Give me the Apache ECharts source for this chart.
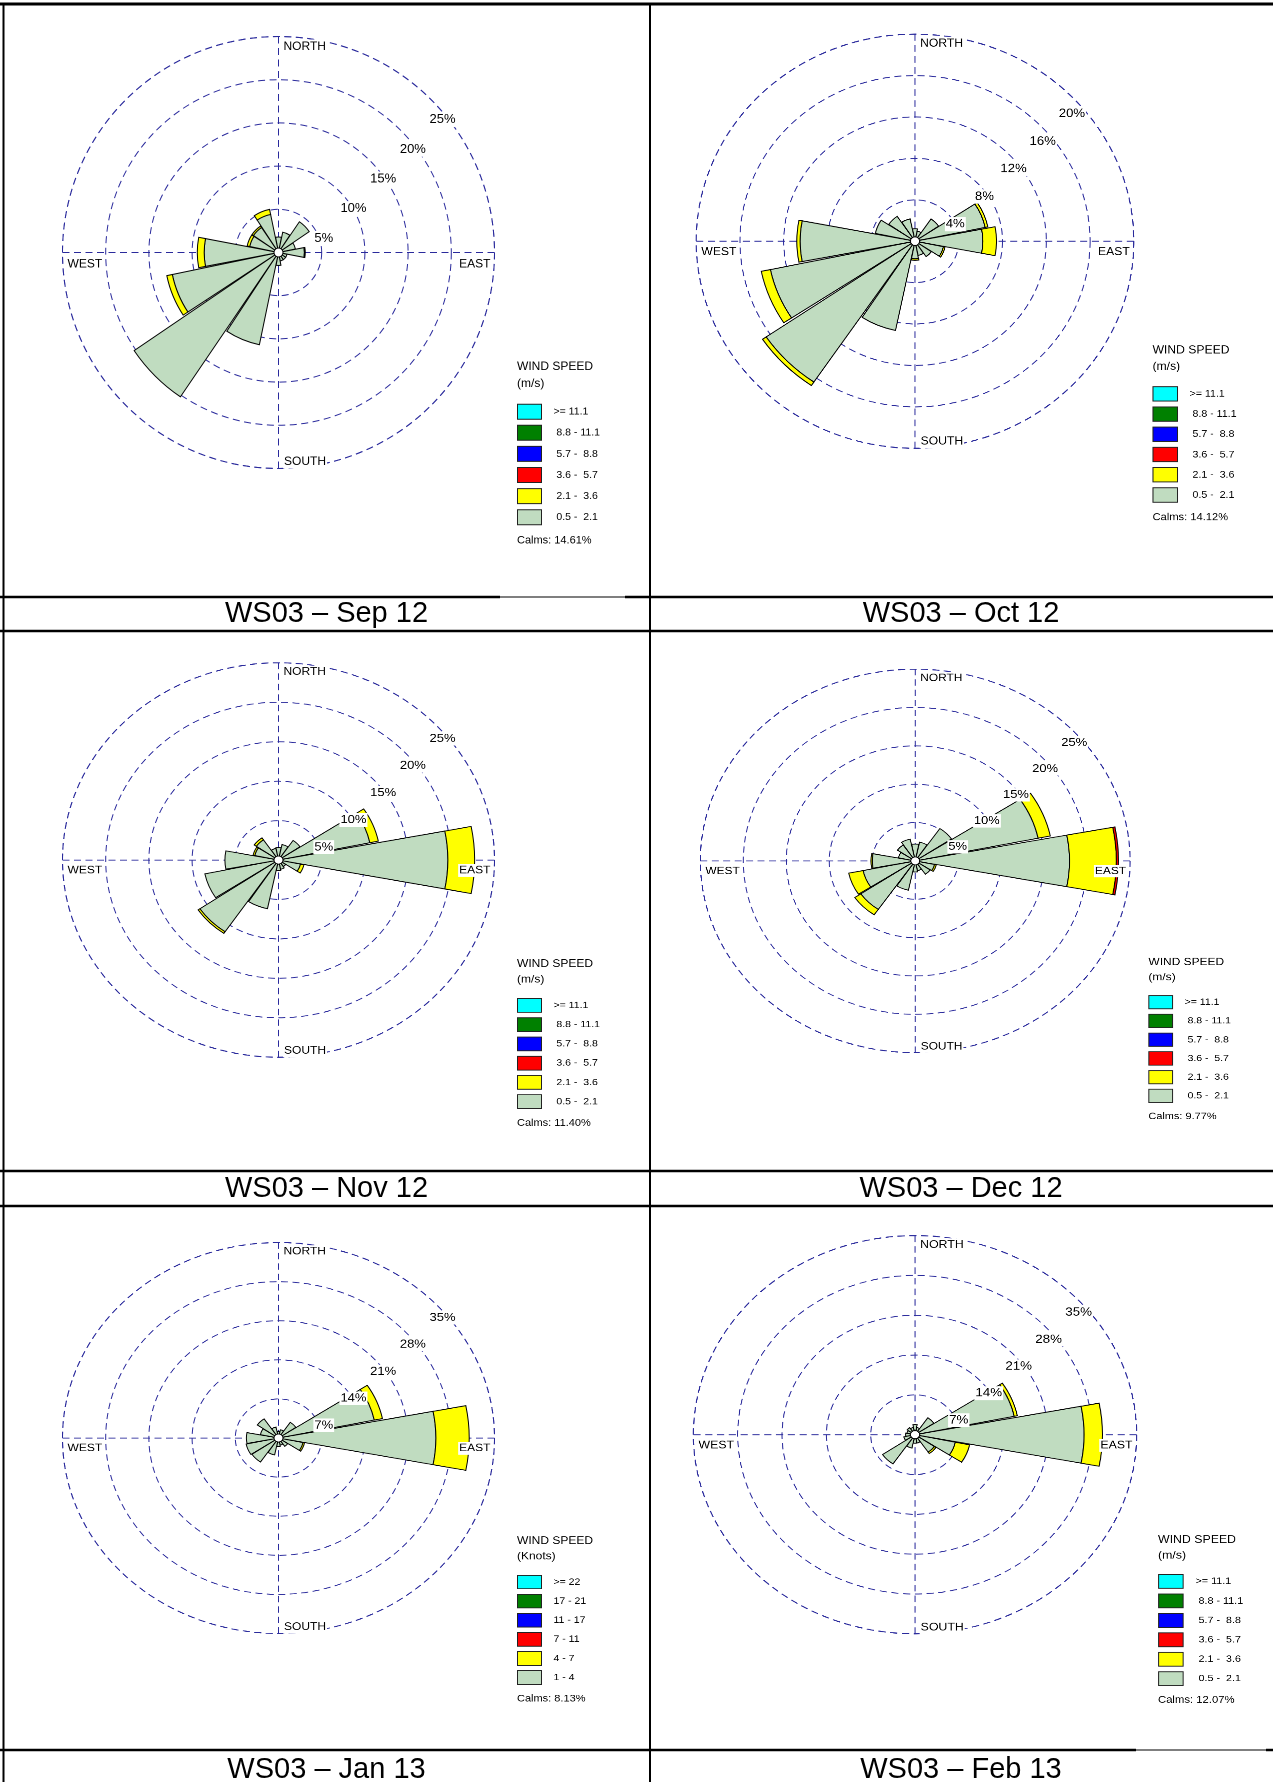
<!DOCTYPE html>
<html><head><meta charset="utf-8">
<script src="https://cdn.jsdelivr.net/npm/echarts@6/dist/echarts.min.js"></script>
<style>
html,body{margin:0;padding:0;background:#fff;}
#page{position:relative;width:1273px;height:1782px;overflow:hidden;background:#fff;}
#bg{position:absolute;left:0;top:0;width:1273px;height:1782px;}
.panel{position:absolute;transform-origin:0 0;}
</style></head><body>
<div id="page"><div id="bg"></div></div>
<script>
// ---------------- DATA ----------------
const directions = ['N','NNE','NE','ENE','E','ESE','SE','SSE','S','SSW','SW','WSW','W','WNW','NW','NNW'];

// speed class labels, inner (lowest) to outer (highest)
const classLabelsMs = [' 0.5 -  2.1', ' 2.1 -  3.6', ' 3.6 -  5.7', ' 5.7 -  8.8', ' 8.8 - 11.1', '>= 11.1'];
const classLabelsKnots = ['1 - 4', '4 - 7', '7 - 11', '11 - 17', '17 - 21', '>= 22'];
const classColors = ['#c0dcc0', '#ffff00', '#ff0000', '#0000ff', '#008000', '#00ffff'];

const captions = ['WS03 \u2013 Sep 12', 'WS03 \u2013 Oct 12', 'WS03 \u2013 Nov 12', 'WS03 \u2013 Dec 12', 'WS03 \u2013 Jan 13', 'WS03 \u2013 Feb 13'];
const calms = ['14.61%', '14.12%', '11.40%', '9.77%', '8.13%', '12.07%'];
const ringMax = [25, 20, 25, 25, 35, 35];
const ringStep = [5, 4, 5, 5, 7, 7];

// percent frequency per direction
const sepLow  = [1.8, 2.4, 4.3, 2.0, 3.0, 1.0, 1.0, 1.0, 1.5, 10.9, 20.2, 12.55, 8.6, 3.4, 3.5, 4.5];
const sepMid  = [0, 0, 0, 0, 0.1, 0, 0, 0, 0, 0, 0, 0.65, 0.8, 0.3, 0.2, 0.6];

const octLow  = [1.2, 1.0, 2.6, 6.55, 6.2, 2.65, 1.8, 1.4, 1.7, 8.8, 16.45, 13.5, 10.5, 3.7, 2.9, 2.2];
const octMid  = [0, 0, 0, 0.25, 1.25, 0.15, 0, 0, 0.15, 0, 0.4, 0.85, 0.3, 0, 0, 0];

const novLow  = [1.6, 2.0, 3.0, 10.8, 19.6, 2.6, 1.0, 1.2, 1.35, 6.3, 11.0, 8.7, 6.2, 2.8, 3.1, 1.5];
const novMid  = [0, 0, 0, 1.0, 3.1, 0.4, 0, 0, 0, 0, 0.25, 0, 0, 0.2, 0.3, 0];

const decLow  = [2.2, 2.5, 5.1, 14.6, 17.95, 2.3, 2.1, 1.3, 1.45, 3.9, 7.65, 6.2, 5.0, 2.0, 2.5, 2.9];
const decMid  = [0, 0, 0, 1.45, 5.45, 0.2, 0, 0, 0, 0, 0.85, 1.7, 0.15, 0, 0, 0];
const decHigh = [0, 0, 0, 0, 0.25, 0, 0, 0, 0, 0, 0, 0, 0, 0, 0, 0];

const janLow  = [1.2, 1.5, 3.4, 15.85, 25.5, 4.05, 1.8, 1.3, 1.5, 3.1, 5.2, 5.35, 5.2, 3.0, 4.15, 2.0];
const janMid  = [0, 0, 0, 1.35, 5.4, 0.25, 0, 0, 0, 0, 0, 0, 0, 0, 0, 0];

const febLow  = [1.8, 1.3, 3.6, 16.0, 26.7, 6.5, 3.7, 1.5, 1.5, 2.4, 6.2, 1.8, 1.5, 1.3, 1.5, 1.3];
const febMid  = [0, 0, 0, 0.5, 2.9, 2.3, 0.3, 0, 0, 0, 0, 0, 0, 0, 0, 0];

// ---------------- LAYOUT ----------------
const FONT = '"Liberation Sans", Arial, sans-serif';
const DASH = {color: '#2a2a9c', width: 1, type: [7, 4.5]};

const panels = [
  {L: 4,   T: 4,    W: 646, H: 593, sx: 1.0,   sy: 1.0,   cx: 278.5, cy: 252.5, lx: 517,    lbR: 6,    lbM: -22,   unit: '(m/s)',   labels: classLabelsMs,    values: [sepLow, sepMid]},
  {L: 651, T: 4,    W: 622, H: 593, sx: 1.013, sy: 0.958, cx: 915,   cy: 241,   lx: 1152.5, lbR: 12.5, lbM: -15.5, unit: '(m/s)',   labels: classLabelsMs,    values: [octLow, octMid]},
  {L: 4,   T: 631,  W: 646, H: 540, sx: 1.0,   sy: 0.913, cx: 278.5, cy: 860,   lx: 517,    lbR: 6,    lbM: -22,   unit: '(m/s)',   labels: classLabelsMs,    values: [novLow, novMid]},
  {L: 651, T: 631,  W: 622, H: 540, sx: 0.994, sy: 0.887, cx: 915,   cy: 860.7, lx: 1148,   lbR: 9,    lbM: -19,   unit: '(m/s)',   labels: classLabelsMs,    values: [decLow, decMid, decHigh]},
  {L: 4,   T: 1206, W: 646, H: 544, sx: 1.0,   sy: 0.905, cx: 278.5, cy: 1438,  lx: 517,    lbR: 6,    lbM: -22,   unit: '(Knots)', labels: classLabelsKnots, values: [janLow, janMid]},
  {L: 651, T: 1206, W: 622, H: 544, sx: 1.026, sy: 0.921, cx: 915,   cy: 1434.5,lx: 1158,   lbR: 9.5,  lbM: -19,   unit: '(m/s)',   labels: classLabelsMs,    values: [febLow, febMid]}
];

// ---------------- BACKGROUND (table + captions) ----------------
const bg = echarts.init(document.getElementById('bg'), null, {renderer: 'canvas'});
const hLine = (y, x1, x2, w) => ({type: 'line', shape: {x1: x1, y1: y, x2: x2, y2: y}, style: {stroke: '#000', lineWidth: w}});
const vLine = (x, y1, y2, w) => ({type: 'line', shape: {x1: x, y1: y1, x2: x, y2: y2}, style: {stroke: '#000', lineWidth: w}});
const capPos = [[326.5, 614], [961, 614], [326.5, 1189], [961, 1189], [326.5, 1770], [961, 1770]];
bg.setOption({
  backgroundColor: '#fff',
  animation: false,
  graphic: [
    hLine(4, 0, 1273, 3),
    vLine(3.5, 4, 1782, 2),
    vLine(650, 4, 1782, 2),
    hLine(597, 0, 500, 2.5), hLine(597, 500, 625, 1.2), hLine(597, 625, 1273, 2.5),
    hLine(631, 0, 1273, 2.5),
    hLine(1171, 0, 1273, 2.5),
    hLine(1206, 0, 1273, 2.5),
    hLine(1750, 0, 1136, 2.5), hLine(1750, 1136, 1266, 1.2), hLine(1750, 1266, 1273, 2.5)
  ].concat(captions.map((c, i) => ({
    type: 'text', x: capPos[i][0], y: capPos[i][1],
    style: {text: c, fontSize: 29, fontFamily: FONT, fill: '#000', align: 'center', verticalAlign: 'middle'}
  })))
});

// ---------------- WIND ROSE PANELS ----------------
function buildPanel(p, idx) {
  const w = p.W / p.sx, h = p.H / p.sy;
  const div = document.createElement('div');
  div.className = 'panel';
  div.style.left = p.L + 'px';
  div.style.top = p.T + 'px';
  div.style.width = w + 'px';
  div.style.height = h + 'px';
  div.style.transform = 'scale(' + p.sx + ',' + p.sy + ')';
  document.getElementById('page').appendChild(div);
  const chart = echarts.init(div, null, {renderer: 'canvas', width: w, height: h, devicePixelRatio: 2});
  const cx = (p.cx - p.L) / p.sx, cy = (p.cy - p.T) / p.sy;
  const lx = (p.lx - p.L) / p.sx;
  const R = 216;
  const max = ringMax[idx], step = ringStep[idx];

  const series = p.labels.map((name, k) => ({
    type: 'bar', coordinateSystem: 'polar', polarIndex: 0, stack: 'rose', name: name,
    data: p.values[k] ? p.values[k].map(v => v > 0 ? v : null) : [],
    itemStyle: {color: classColors[k], borderColor: '#000', borderWidth: 1},
    barCategoryGap: '4%', z: 5, silent: true
  }));
  series.push({
    type: 'pie', center: [cx, cy], radius: [0, 4.5], silent: true, z: 30,
    label: {show: false}, labelLine: {show: false},
    itemStyle: {color: '#fff', borderColor: '#000', borderWidth: 1},
    data: [{value: 1, name: 'centre'}]
  });

  const dirText = (t, x, y, align) => ({
    type: 'text', x: x, y: y, z: 60,
    style: {text: t, fontSize: 12, fontFamily: FONT, fill: '#000', align: align, verticalAlign: 'middle', backgroundColor: '#fff', padding: [1, 1]}
  });
  const plainText = (t, x, y, size) => ({
    type: 'text', x: x, y: y, z: 60,
    style: {text: t, fontSize: size, fontFamily: FONT, fill: '#000', align: 'left', verticalAlign: 'middle'}
  });

  chart.setOption({
    backgroundColor: 'transparent',
    animation: false,
    polar: [
      {center: [cx, cy], radius: R},
      {center: [cx, cy], radius: R},
      {center: [cx, cy], radius: R - p.lbR}
    ],
    angleAxis: [
      {polarIndex: 0, type: 'category', data: directions, startAngle: 101.25, boundaryGap: true,
       axisLine: {show: true, lineStyle: DASH}, axisTick: {show: false}, axisLabel: {show: false}, splitLine: {show: false}, z: 1},
      {polarIndex: 1, type: 'value', min: 0, max: 360, interval: 90, startAngle: 90,
       axisLine: {show: false}, axisTick: {show: false}, axisLabel: {show: false}, splitLine: {show: true, lineStyle: DASH}, z: 1},
      {polarIndex: 2, type: 'value', min: 0, max: 360, startAngle: 45,
       axisLine: {show: false}, axisTick: {show: false}, axisLabel: {show: false}, splitLine: {show: false}}
    ],
    radiusAxis: [
      {polarIndex: 0, type: 'value', min: 0, max: max, interval: step,
       axisLine: {show: false}, axisTick: {show: false}, axisLabel: {show: false}, splitLine: {show: true, lineStyle: DASH}, z: 1},
      {polarIndex: 1, type: 'value', min: 0, max: max, interval: step,
       axisLine: {show: false}, axisTick: {show: false}, axisLabel: {show: false}, splitLine: {show: false}},
      {polarIndex: 2, type: 'value', min: 0, max: max, interval: step, z: 40,
       axisLine: {show: false}, axisTick: {show: false}, splitLine: {show: false},
       axisLabel: {show: true, showMinLabel: false, formatter: '{value}%', margin: p.lbM, rotate: 0,
                   align: 'center', verticalAlign: 'middle', backgroundColor: '#fff', padding: [1, 1],
                   fontSize: 13, color: '#000', fontFamily: FONT}}
    ],
    legend: {
      orient: 'vertical', left: lx, top: cy + 151.2, padding: 0,
      itemWidth: 24, itemHeight: 15, itemGap: 5.1, icon: 'rect', selectedMode: false,
      data: p.labels.slice().reverse(),
      itemStyle: {borderColor: '#222', borderWidth: 1},
      textStyle: {fontSize: 10.5, color: '#000', fontFamily: FONT, padding: [0, 0, 0, 7]}
    },
    graphic: [
      dirText('NORTH', cx + 4, cy - 206, 'left'),
      dirText('SOUTH', cx + 4.5, cy + 209, 'left'),
      dirText('EAST', cx + 213, cy + 11.5, 'right'),
      dirText('WEST', cx - 212, cy + 11.5, 'left'),
      plainText('WIND SPEED', lx, cy + 114, 12),
      plainText(p.unit, lx, cy + 131, 12),
      plainText('Calms: ' + calms[idx], lx, cy + 288, 11)
    ],
    series: series
  });
}
panels.forEach(buildPanel);
</script>
</body></html>
